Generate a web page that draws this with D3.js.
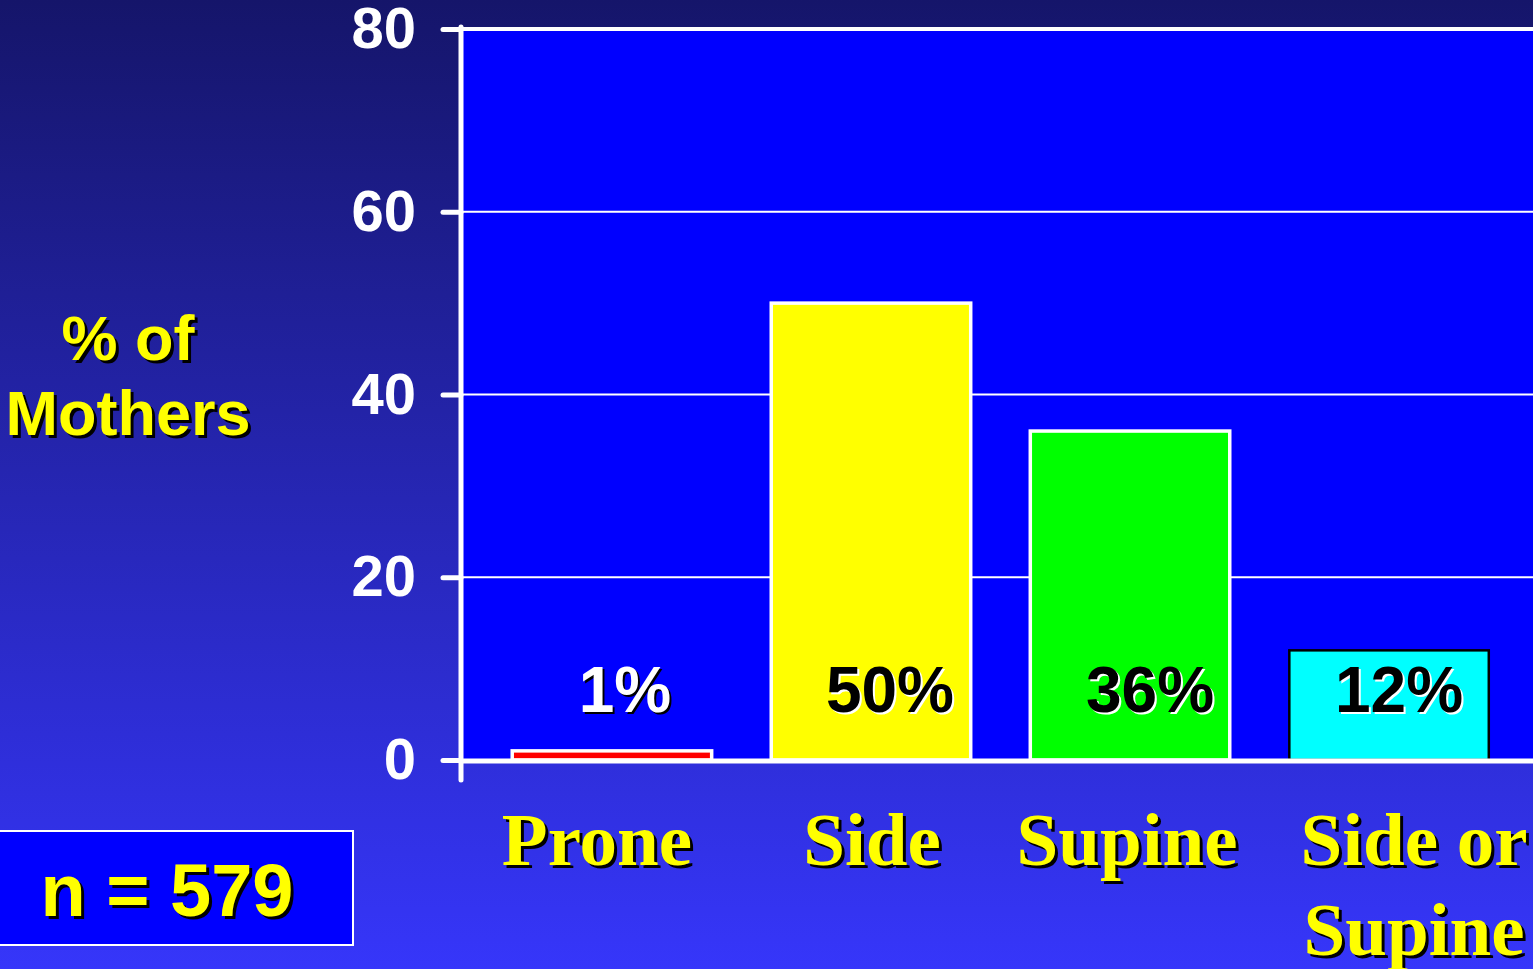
<!DOCTYPE html>
<html>
<head>
<meta charset="utf-8">
<script src="https://cdn.jsdelivr.net/npm/d3@7"></script>
<style>
  html, body { margin: 0; padding: 0; overflow: hidden; }
  svg { display: block; }
</style>
</head>
<body>
<div id="chart"></div>
<script>
// data
var categories = ["Prone", "Side", "Supine", "Side or Supine"];
var percents = [1, 50, 36, 12];
var valueLabels = ["1%", "50%", "36%", "12%"];
var barColors = ["#ff0000", "#ffff00", "#00ff00", "#00ffff"];
var barStrokes = ["#ffffff", "#ffffff", "#ffffff", "#000000"];
var yTicks = [0, 20, 40, 60, 80];
var sampleSize = "n = 579";

drawChart();

function drawChart() {
    var width = 1533, height = 969;

    var svg = d3.select("#chart").append("svg")
        .attr("width", width)
        .attr("height", height);

    // background gradient
    var defs = svg.append("defs");
    var grad = defs.append("linearGradient").attr("id", "bg")
        .attr("x1", 0).attr("y1", 0).attr("x2", 0).attr("y2", 1);
    grad.append("stop").attr("offset", "0%").attr("stop-color", "#15156a");
    grad.append("stop").attr("offset", "100%").attr("stop-color", "#3636fa");
    svg.append("rect").attr("width", width).attr("height", height).attr("fill", "url(#bg)");

    // scales
    var x = d3.scaleBand().domain(categories).range([463, 1538])
        .paddingInner(0.23).paddingOuter(0.19);
    var y = d3.scaleLinear().domain([0, 80]).range([760, 29]);

    // plot area
    svg.append("rect")
        .attr("x", 463).attr("y", y(80))
        .attr("width", width - 463).attr("height", y(0) - y(80))
        .attr("fill", "#0000ff");

    // gridlines
    svg.append("g").selectAll("line")
        .data(yTicks.filter(function(d) { return d > 0; }))
        .enter().append("line")
        .attr("x1", 463).attr("x2", width)
        .attr("y1", function(d) { return y(d); })
        .attr("y2", function(d) { return y(d); })
        .attr("stroke", "#fff")
        .attr("stroke-width", function(d) { return d == 80 ? 4 : 2; });

    // bars
    svg.append("g").selectAll("rect")
        .data(percents)
        .enter().append("rect")
        .attr("x", function(d, i) { return x(categories[i]); })
        .attr("width", x.bandwidth())
        .attr("y", function(d) { return y(d); })
        .attr("height", function(d) { return y(0) - y(d); })
        .attr("fill", function(d, i) { return barColors[i]; })
        .attr("stroke", function(d, i) { return barStrokes[i]; })
        .attr("stroke-width", function(d, i) { return i == 3 ? 2.5 : 3.5; });

    // y axis
    var yAxis = svg.append("g")
        .attr("transform", "translate(461,0)")
        .call(d3.axisLeft(y).tickValues(yTicks).tickSize(18).tickPadding(27));
    yAxis.select(".domain").remove();
    yAxis.selectAll(".tick line")
        .attr("stroke", "#fff").attr("stroke-width", 5).attr("stroke-linecap", "round");
    yAxis.selectAll(".tick text")
        .attr("fill", "#fff")
        .style("font-family", "'Liberation Sans', Arial, sans-serif")
        .style("font-weight", "bold")
        .style("font-size", "58px");

    // axis lines
    svg.append("line")
        .attr("x1", 461).attr("x2", 461).attr("y1", y(80) - 2).attr("y2", 780)
        .attr("stroke", "#fff").attr("stroke-width", 5).attr("stroke-linecap", "round");
    svg.append("line")
        .attr("x1", 461).attr("x2", width).attr("y1", y(0) + 1).attr("y2", y(0) + 1)
        .attr("stroke", "#fff").attr("stroke-width", 5);

    // value labels (at fixed height above baseline)
    var vals = svg.append("g")
        .style("font-family", "'Liberation Sans', Arial, sans-serif")
        .style("font-weight", "bold")
        .style("font-size", "64px")
        .attr("text-anchor", "middle");
    var valShift = [13, 19, 20, 10];
    valueLabels.forEach(function(lab, i) {
        var cx = x(categories[i]) + x.bandwidth() / 2 + valShift[i];
        var ly = y(0) - 48;
        var onBar = y(percents[i]) < ly - 50;
        var fg = onBar || i == 3 ? "#000" : "#fff";
        var sh = fg == "#000" ? "#fff" : "#000";
        vals.append("text").attr("x", cx + 2).attr("y", ly + 2).attr("fill", sh).text(lab);
        vals.append("text").attr("x", cx).attr("y", ly).attr("fill", fg).text(lab);
    });

    // category labels
    var labelShift = [-15, 1, -3, 25];
    var cats = svg.append("g")
        .style("font-family", "'Liberation Serif', 'Times New Roman', serif")
        .style("font-weight", "bold")
        .style("font-size", "75px")
        .attr("text-anchor", "middle");
    categories.forEach(function(c, i) {
        var cx = x(c) + x.bandwidth() / 2 + labelShift[i];
        var lines = c == "Side or Supine" ? ["Side or", "Supine"] : [c];
        lines.forEach(function(t, j) {
            var ly = y(0) + 105 + j * 90;
            cats.append("text").attr("x", cx + 3).attr("y", ly + 3).attr("fill", "#000").text(t);
            cats.append("text").attr("x", cx).attr("y", ly).attr("fill", "#ffff00").text(t);
        });
    });

    // y axis title
    var title = svg.append("g")
        .style("font-family", "'Liberation Sans', Arial, sans-serif")
        .style("font-weight", "bold")
        .style("font-size", "63px")
        .attr("text-anchor", "middle");
    [["% of", 360], ["Mothers", 435]].forEach(function(p) {
        title.append("text").attr("x", 131).attr("y", p[1] + 3).attr("fill", "#000").text(p[0]);
        title.append("text").attr("x", 128).attr("y", p[1]).attr("fill", "#ffff00").text(p[0]);
    });

    // sample size box
    svg.append("rect")
        .attr("x", -2).attr("y", 831).attr("width", 355).attr("height", 114)
        .attr("fill", "#0000ff").attr("stroke", "#fff").attr("stroke-width", 2);
    var nb = svg.append("g")
        .style("font-family", "'Liberation Sans', Arial, sans-serif")
        .style("font-weight", "bold")
        .style("font-size", "74px")
        .attr("text-anchor", "middle");
    nb.append("text").attr("x", 170).attr("y", 919).attr("fill", "#000").text(sampleSize);
    nb.append("text").attr("x", 167).attr("y", 916).attr("fill", "#ffff00").text(sampleSize);
}
</script>
</body>
</html>
